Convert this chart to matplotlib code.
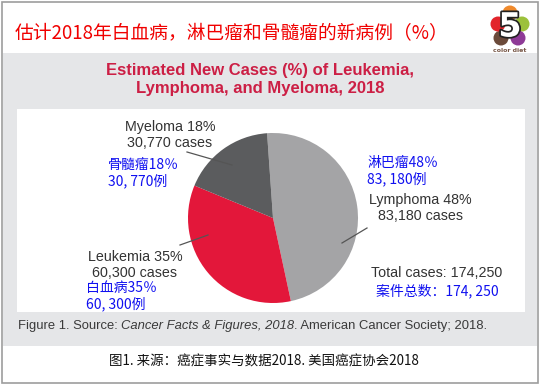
import matplotlib
matplotlib.use("Agg")
import matplotlib.pyplot as plt
import matplotlib.patheffects as pe
from matplotlib.patches import Rectangle, Ellipse

# data
categories = ["Lymphoma", "Leukemia", "Myeloma"]
cases = [83180, 60300, 30770]
percents = [48, 35, 18]
total_cases = 174250
cn_names = ["淋巴瘤", "白血病", "骨髓瘤"]
slice_colors = ["#a4a4a6", "#e3173a", "#5b5c5e"]

EN = "Liberation Sans"
CJK = ["Noto Sans CJK SC", "DejaVu Sans"]
W, H = 540, 385

fig = plt.figure(figsize=(W / 100, H / 100), dpi=100)
ax = fig.add_axes([0, 0, 1, 1])

# backgrounds
ax.add_patch(Rectangle((1.5, 1.5), 536, 381, fc="white", ec="#9d9d9d", lw=1.2))
ax.add_patch(Rectangle((2.5, 53), 534, 293, fc="#e5e6e8", ec="none"))
ax.add_patch(Rectangle((17, 109), 508, 203, fc="white", ec="none"))

# pie (y axis points down, so angles are mirrored)
ax.pie(cases, colors=slice_colors, startangle=-94, counterclock=True,
       center=(273, 218), radius=85, frame=True,
       wedgeprops=dict(linewidth=0))

ax.set_xlim(0, W)
ax.set_ylim(H, 0)
ax.set_aspect("auto")
ax.axis("off")

# top chinese title
ax.text(15, 34, "估计2018年白血病，淋巴瘤和骨髓瘤的新病例（%）", family=CJK,
        fontsize=13.5, color="#f00000", va="center", ha="left")

# logo
petals = [((510, 13), "#f08a2c"), ((522, 24), "#9cc13b"), ((518, 38), "#8e3a96"),
          ((501, 38), "#6b4a3a"), ((498, 24), "#e2242b")]
for (px, py), c in petals:
    ax.add_patch(Ellipse((px, py), 15, 15, fc=c, ec="none"))
ax.text(510, 27, "5", fontsize=24, fontweight="bold", color="white", ha="center",
        va="center", family="DejaVu Sans",
        path_effects=[pe.withStroke(linewidth=2.5, foreground="#222222")])
ax.text(510, 50, "color diet", fontsize=4.5, color="#7a5a4a", ha="center", va="center",
        family="DejaVu Sans", fontweight="bold")

# english title
title_color = "#cc1f45"
ax.text(260, 70, "Estimated New Cases (%) of Leukemia,", family=EN, fontsize=12,
        fontweight="bold", color=title_color, ha="center", va="center")
ax.text(260, 88, "Lymphoma, and Myeloma, 2018", family=EN, fontsize=12,
        fontweight="bold", color=title_color, ha="center", va="center")

lab_color = "#333333"
en_fs = 10.3
cn_fs = 10
blue = "#1010f0"

def en_label(x, y, i):
    ax.text(x, y, f"{categories[i]} {percents[i]}%", family=EN, fontsize=en_fs,
            color=lab_color, ha="center", va="center")
    ax.text(x, y + 16, f"{cases[i]:,} cases", family=EN, fontsize=en_fs,
            color=lab_color, ha="center", va="center")

def cn_label(x, y, i):
    ax.text(x, y, f"{cn_names[i]}{percents[i]}％", family=CJK, fontsize=cn_fs,
            color=blue, ha="left", va="center")
    ax.text(x, y + 16, f"{cases[i]:,}例".replace(",", ", "), family=CJK,
            fontsize=cn_fs, color=blue, ha="left", va="center")

en_label(170, 127, 2)
cn_label(108, 165, 2)
cn_label(367, 163, 0)
en_label(420, 200, 0)
en_label(135, 257, 1)
cn_label(86, 288, 1)

ax.text(437, 273, f"Total cases: {total_cases:,}", family=EN, fontsize=en_fs,
        color=lab_color, ha="center", va="center")
ax.text(437, 291, f"案件总数：{total_cases:,}".replace(",", ", "), family=CJK,
        fontsize=cn_fs, color=blue, ha="center", va="center")

# leader lines
lc = "#555555"
ax.plot([187, 232], [152, 165], color=lc, lw=0.9)
ax.plot([180, 208], [245, 235], color=lc, lw=0.9)
ax.plot([367, 342], [228, 243], color=lc, lw=0.9)

# english caption with italic part
cap_color = "#3a3a3a"
cap_fs = 9.4
t = ax.text(18, 326, "Figure 1. Source: ", family=EN, fontsize=cap_fs,
            color=cap_color, ha="left", va="center")
t = ax.annotate("Cancer Facts & Figures, 2018", xy=(1, 0.5), xycoords=t,
                family=EN, fontsize=cap_fs, style="italic", color=cap_color,
                ha="left", va="center")
ax.annotate(". American Cancer Society; 2018.", xy=(1, 0.5), xycoords=t,
            family=EN, fontsize=cap_fs, color=cap_color, ha="left", va="center")

# chinese caption
ax.text(264, 362, "图1. 来源：癌症事实与数据2018. 美国癌症协会2018", family=CJK,
        fontsize=9.7, color="#111111", ha="center", va="center")

fig.savefig("out.png", dpi=100)
